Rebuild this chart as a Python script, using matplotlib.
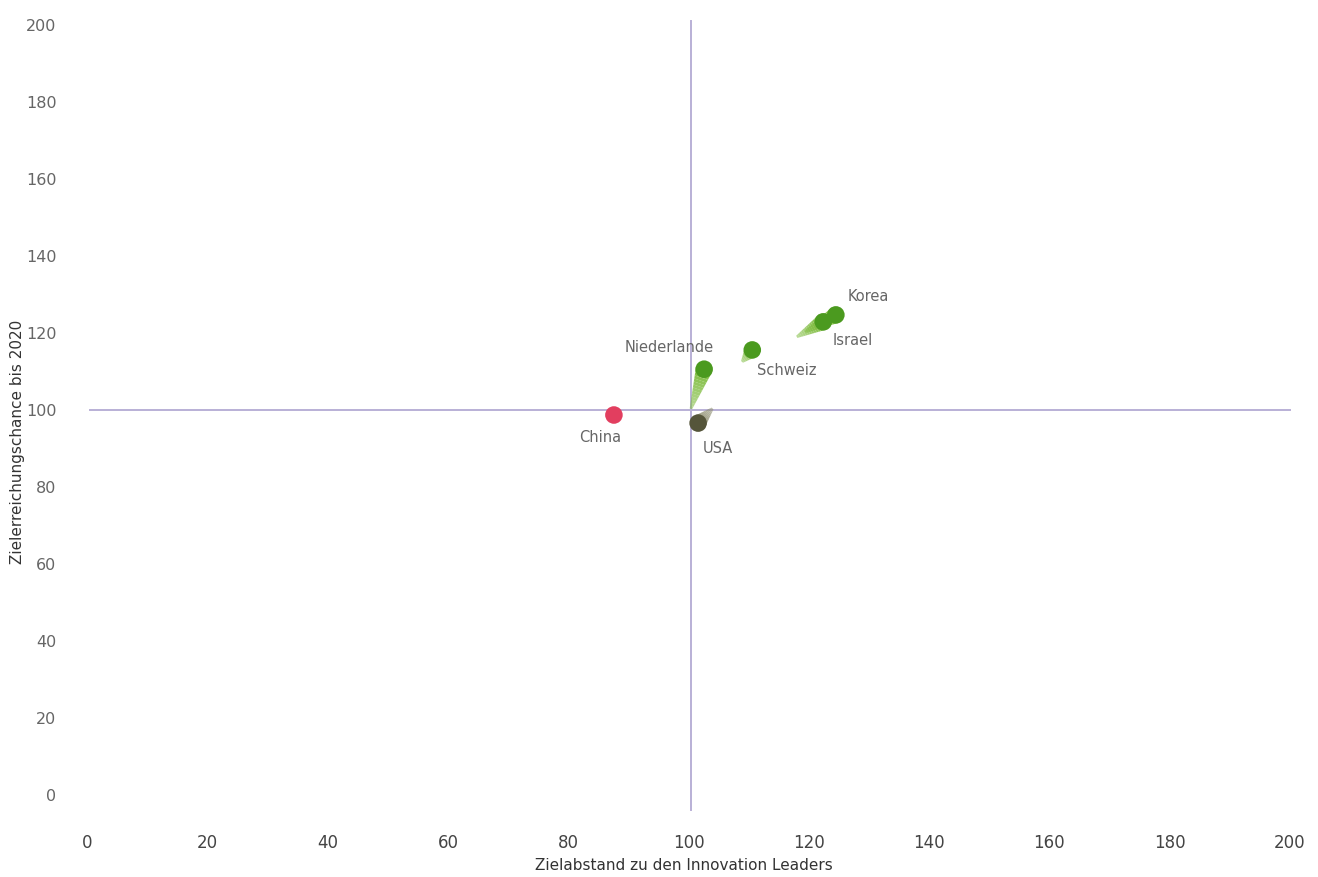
import numpy as np
import matplotlib
matplotlib.use("Agg")
import matplotlib.pyplot as plt
from matplotlib.patches import Polygon

# Countries: current position and previous position (tail start)
countries = ["China", "USA", "Niederlande", "Schweiz", "Israel", "Korea"]
x_now = [87.6, 101.6, 102.6, 110.6, 122.4, 124.5]
y_now = [98.7, 96.6, 110.6, 115.6, 122.9, 124.7]
x_prev = [87.6, 104.0, 100.4, 108.9, 118.0, 119.4]
y_prev = [98.7, 100.4, 100.3, 112.5, 119.0, 120.3]
dot_colors = ["#e23e5f", "#55553a", "#4b9a1f", "#4b9a1f", "#4b9a1f", "#4b9a1f"]
tail_colors = ["#e23e5f", "#8a8a6a", "#7dbb3c", "#7dbb3c", "#7dbb3c", "#7dbb3c"]
label_offsets = [(-14, -22), (20, -25), (-35, 22), (34, -21), (30, -19), (32, 18)]

x_ticks = [0, 20, 40, 60, 80, 100, 120, 140, 160, 180, 200]
y_ticks = [0, 20, 40, 60, 80, 100, 120, 140, 160, 180, 200]
x_title = "Zielabstand zu den Innovation Leaders"
y_title = "Zielerreichungschance bis 2020"

fig = plt.figure(figsize=(13.18, 8.77), dpi=100)
ax = fig.add_axes([87 / 1318, 1 - 795 / 877, (1290 - 87) / 1318, (795 - 25) / 877])
ax.set_xlim(0, 200)
ax.set_ylim(0, 200)
for s in ax.spines.values():
    s.set_visible(False)

ax.set_xticks(x_ticks)
ax.set_yticks(y_ticks)
ax.tick_params(length=0)
ax.tick_params(axis="x", pad=28, labelsize=12, labelcolor="#444444")
ax.tick_params(axis="y", pad=22, labelsize=11.5, labelcolor="#666666")

# Reference lines at 100 / 100
ax.plot([100.4, 100.4], [-4, 201], color="#b9b0d6", lw=1.4, clip_on=False, zorder=1)
ax.plot([0.5, 200], [100, 100], color="#b9b0d6", lw=1.4, clip_on=False, zorder=1)

fig.canvas.draw()
to_disp = ax.transData.transform
to_data = ax.transData.inverted().transform
radius_px = 8.5

# Tails: tapered wedges from previous to current position, fading toward the start
for xp, yp, xn, yn, tc in zip(x_prev, y_prev, x_now, y_now, tail_colors):
    p0 = to_disp((xp, yp))
    p1 = to_disp((xn, yn))
    d = p1 - p0
    length = np.hypot(*d)
    if length < 1:
        continue
    u = d / length
    n = np.array([-u[1], u[0]])
    steps = 14
    for i in range(steps):
        t0, t1 = i / steps, (i + 1) / steps
        a0 = p0 + d * t0
        a1 = p0 + d * t1
        w0 = radius_px * (0.15 + 0.85 * t0)
        w1 = radius_px * (0.15 + 0.85 * t1)
        quad = np.array([a0 + n * w0, a1 + n * w1, a1 - n * w1, a0 - n * w0])
        ax.add_patch(Polygon(to_data(quad), closed=True, facecolor=tc,
                             edgecolor="none", alpha=0.5 + 0.5 * t1, zorder=2))

ax.scatter(x_now, y_now, s=160, c=dot_colors, edgecolors="none", zorder=3)

for name, xn, yn, (dx, dy) in zip(countries, x_now, y_now, label_offsets):
    ax.annotate(name, (xn, yn), xytext=(dx, dy), textcoords="offset pixels",
                ha="center", va="center", fontsize=10.5, color="#666666", zorder=4)

fig.text(684 / 1318, 1 - 866 / 877, x_title, ha="center", va="center",
         fontsize=11, color="#333333")
fig.text(18 / 1318, 1 - 442 / 877, y_title, ha="center", va="center",
         rotation=90, fontsize=11, color="#333333")

fig.savefig("out.png", dpi=100)
